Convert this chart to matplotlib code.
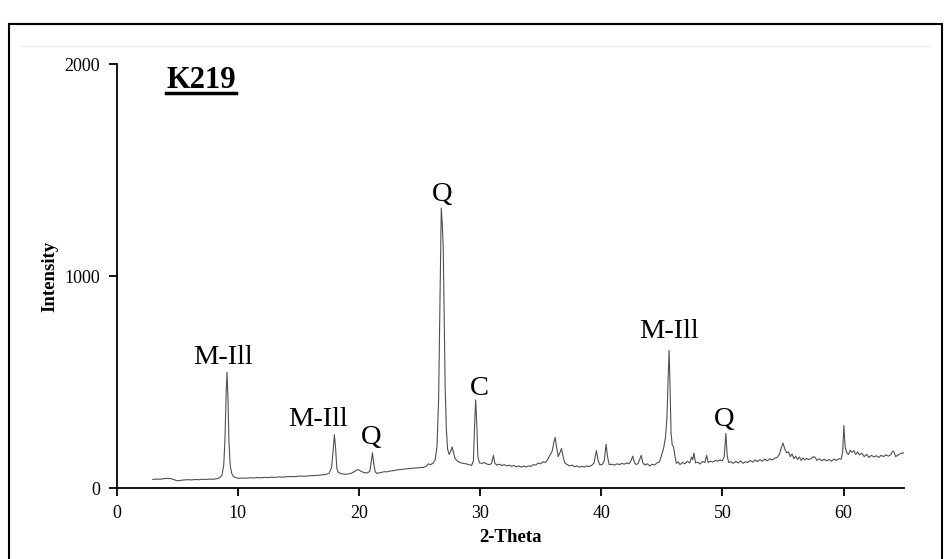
import numpy as np
import matplotlib.pyplot as plt
from matplotlib.lines import Line2D
from matplotlib.patches import Rectangle

# Patrón de difracción (2-Theta, Intensidad)
two_theta = [
    3.0, 3.3, 3.6, 3.9, 4.2, 4.5, 4.8, 5.0, 5.3, 5.6, 5.9, 6.2, 6.5, 6.8, 7.1, 7.4, 7.7, 8.0, 8.3, 8.5,
    8.7, 8.85, 8.95, 9.05, 9.12, 9.2, 9.28, 9.38, 9.5, 9.65, 9.85, 10.1, 10.4, 10.7, 11.0, 11.3, 11.6,
    11.9, 12.2, 12.5, 12.8, 13.1, 13.4, 13.7, 14.0, 14.3, 14.6, 14.9, 15.2, 15.5, 15.8, 16.1, 16.4,
    16.7, 17.0, 17.3, 17.55, 17.75, 17.88, 17.98, 18.08, 18.18, 18.3, 18.5, 18.7, 18.9, 19.1, 19.4,
    19.65, 19.85, 20.0, 20.2, 20.45, 20.7, 20.9, 21.02, 21.12, 21.22, 21.35, 21.5, 21.7, 21.9, 22.1,
    22.3, 22.6, 22.9, 23.2, 23.5, 23.8, 24.1, 24.4, 24.7, 25.0, 25.3, 25.55, 25.75, 25.9, 26.1, 26.3,
    26.45, 26.58, 26.7, 26.8, 26.88, 26.96, 27.04, 27.12, 27.22, 27.32, 27.45, 27.58, 27.7, 27.8,
    27.95, 28.15, 28.35, 28.6, 28.85, 29.1, 29.3, 29.45, 29.55, 29.64, 29.73, 29.82, 29.95, 30.15,
    30.35, 30.55, 30.8, 30.95, 31.1, 31.22, 31.4, 31.6, 31.8, 32.0, 32.2, 32.4, 32.6, 32.8, 33.0,
    33.2, 33.4, 33.6, 33.8, 34.0, 34.2, 34.4, 34.6, 34.8, 35.0, 35.2, 35.4, 35.6, 35.8, 35.95, 36.1,
    36.2, 36.3, 36.45, 36.6, 36.72, 36.85, 37.0, 37.2, 37.4, 37.6, 37.8, 38.0, 38.2, 38.4, 38.6,
    38.8, 39.0, 39.2, 39.4, 39.6, 39.75, 39.9, 40.1, 40.25, 40.4, 40.52, 40.65, 40.85, 41.1, 41.3,
    41.5, 41.7, 41.9, 42.1, 42.3, 42.45, 42.6, 42.75, 42.9, 43.05, 43.2, 43.3, 43.42, 43.6, 43.8,
    44.0, 44.2, 44.4, 44.6, 44.8, 45.0, 45.15, 45.3, 45.42, 45.52, 45.6, 45.68, 45.76, 45.86, 45.96,
    46.06, 46.2, 46.35, 46.5, 46.7, 46.9, 47.1, 47.3, 47.45, 47.55, 47.65, 47.78, 47.95, 48.15,
    48.35, 48.55, 48.7, 48.82, 49.0, 49.2, 49.4, 49.6, 49.8, 50.0, 50.15, 50.28, 50.4, 50.52, 50.7,
    50.9, 51.1, 51.3, 51.5, 51.7, 51.9, 52.1, 52.3, 52.5, 52.7, 52.9, 53.1, 53.3, 53.5, 53.7, 53.9,
    54.1, 54.3, 54.5, 54.7, 54.85, 55.0, 55.15, 55.3, 55.45, 55.6, 55.75, 55.9, 56.05, 56.2, 56.35,
    56.5, 56.65, 56.8, 56.95, 57.1, 57.3, 57.5, 57.65, 57.8, 58.0, 58.2, 58.4, 58.6, 58.8, 59.0,
    59.2, 59.4, 59.6, 59.8, 59.92, 60.02, 60.12, 60.25, 60.4, 60.55, 60.7, 60.85, 61.0, 61.15, 61.3,
    61.5, 61.7, 61.9, 62.1, 62.3, 62.5, 62.7, 62.9, 63.1, 63.3, 63.5, 63.7, 63.9, 64.05, 64.15, 64.3,
    64.5, 64.7, 64.9, 65.0,
]
intensity = [
    42, 44, 43, 46, 47, 46, 40, 36, 38, 40, 41, 40, 42, 41, 43, 42, 44, 43, 46, 50,
    62, 110, 230, 450, 548, 420, 220, 110, 72, 56, 50, 48, 49, 48, 50, 49, 51,
    50, 52, 51, 53, 52, 54, 53, 55, 56, 55, 57, 58, 57, 59, 60, 61,
    62, 64, 66, 72, 100, 180, 253, 190, 95, 76, 70, 68, 66, 68, 72,
    80, 88, 87, 80, 74, 73, 80, 125, 168, 120, 78, 70, 74, 76, 79,
    78, 82, 84, 88, 89, 92, 93, 95, 96, 98, 99, 104, 116, 112, 118, 135,
    200, 420, 900, 1322, 1250, 1140, 820, 480, 280, 185, 160, 175, 196, 170,
    140, 128, 122, 118, 116, 112, 108, 130, 300, 417, 300, 150, 120, 118,
    122, 115, 112, 118, 156, 118, 110, 114, 108, 112, 106, 110, 104, 108, 102,
    106, 100, 105, 101, 106, 104, 112, 110, 120, 116, 126, 122, 138, 160, 175, 220,
    240, 200, 150, 170, 188, 150, 120, 112, 106, 110, 102, 106, 100, 104, 101,
    106, 103, 108, 120, 178, 130, 110, 114, 130, 208, 150, 112, 114, 110, 116,
    112, 118, 114, 120, 116, 130, 152, 120, 112, 118, 140, 156, 122, 110, 116,
    106, 114, 110, 120, 125, 160, 190, 240, 330, 520, 651, 480, 260, 205, 198,
    160, 118, 125, 112, 122, 116, 128, 120, 148, 135, 167, 120, 124, 115,
    126, 122, 156, 122, 128, 124, 132, 128, 134, 130, 150, 259, 150, 122, 126,
    118, 128, 120, 130, 118, 126, 122, 132, 124, 134, 126, 136, 128, 138, 130, 140,
    134, 142, 146, 160, 190, 214, 185, 168, 172, 150, 162, 140, 152, 136, 148,
    132, 144, 134, 142, 136, 140, 150, 146, 132, 140, 130, 138, 130, 136, 128,
    138, 132, 140, 138, 170, 297, 200, 168, 160, 180, 170, 178, 160, 172, 158,
    166, 150, 160, 146, 156, 148, 154, 146, 156, 150, 158, 152, 160, 176, 172, 150,
    158, 164, 168, 165,
]

# Etiquetas de fases: (texto, 2-Theta, intensidad de la base del texto)
phase_labels = ['M-Ill', 'M-Ill', 'Q', 'Q', 'C', 'M-Ill', 'Q']
label_x = [8.8, 16.6, 21.0, 26.86, 29.95, 45.55, 50.1]
label_y = [588, 294, 210, 1353, 440, 709, 294]

serif = ['Liberation Serif', 'DejaVu Serif']
plt.rcParams['font.family'] = serif

fig = plt.figure(figsize=(9.47, 5.59), dpi=100)
ax = fig.add_axes([116.5 / 947, 1 - 488.4 / 559, 787.7 / 947, 424.2 / 559])

ax.plot(two_theta, intensity, color='#505050', lw=0.8)

for txt, x, y in zip(phase_labels, label_x, label_y):
    ax.text(x, y, txt, ha='center', va='baseline', fontsize=20.5, color='black')

ax.set_xlim(0, 65)
ax.set_ylim(0, 2000)
ax.set_xticks([0, 10, 20, 30, 40, 50, 60])
ax.set_yticks([0, 1000, 2000])
for s in ['top', 'right']:
    ax.spines[s].set_visible(False)
for s in ['left', 'bottom']:
    ax.spines[s].set_linewidth(1.3)
ax.tick_params(direction='out', length=6, width=1.3, labelsize=13, pad=6)

ax.set_xlabel('2-Theta', fontsize=13.5, fontweight='bold', labelpad=5)
ax.set_ylabel('Intensity', fontsize=13.5, fontweight='bold', labelpad=4)

# Título de la muestra, subrayado
title = fig.text(166 / 947, 1 - 88 / 559, 'K219', fontsize=22, fontweight='bold',
                 ha='left', va='baseline')
fig.canvas.draw()
bb = title.get_window_extent().transformed(fig.transFigure.inverted())
fig.add_artist(Line2D([bb.x0, bb.x1], [1 - 93 / 559] * 2, color='black', lw=2.5))

# Marco exterior
fig.add_artist(Line2D([20 / 947, 930 / 947], [1 - 46 / 559] * 2, color='#eeeeee', lw=1))
fig.add_artist(Rectangle((9 / 947, -0.05), 933 / 947, 1.05 - 24 / 559, fill=False,
                         edgecolor='black', lw=1.5, transform=fig.transFigure))

fig.savefig('out.png', dpi=100)
